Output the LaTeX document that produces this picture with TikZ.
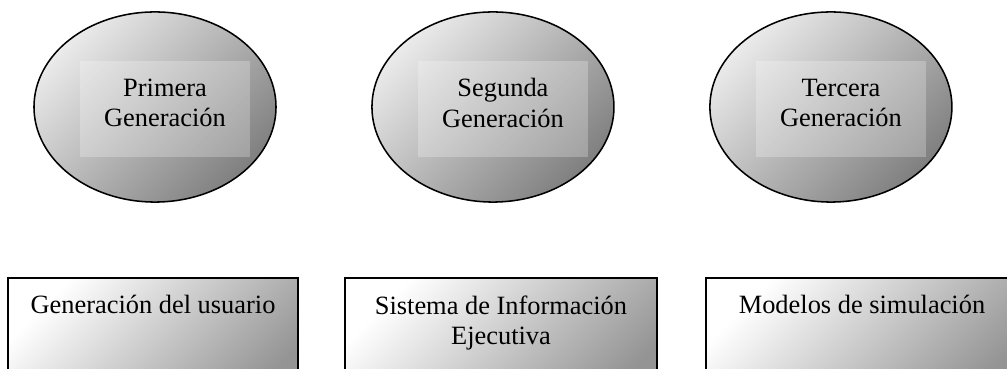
\documentclass[tikz,border=0pt]{standalone}
\usepackage{fontspec}
\setmainfont{Liberation Serif}
\usetikzlibrary{positioning,shapes.geometric}

\definecolor{shadelight}{gray}{0.92}
\definecolor{shadedark}{gray}{0.50}

\begin{document}
\begin{tikzpicture}[x=0.4545pt, y=-0.4545pt, node distance=153.6pt, on grid,
    every node/.style={font=\fontsize{12}{13.8}\selectfont},
    gen/.style={ellipse, draw, line width=0.7pt, minimum width=110pt,
      minimum height=86.4pt, top color=shadelight, bottom color=shadedark,
      shading angle=45},
    genback/.style={rectangle, minimum width=77.3pt, minimum height=43.6pt,
      fill=white, fill opacity=0.25},
    gentext/.style={align=center, inner sep=0pt},
    tool/.style={rectangle, draw, line width=0.9pt, anchor=north,
      minimum height=60pt, top color=white, bottom color=black!42,
      shading angle=45},
    tooltext/.style={align=center, inner sep=0pt, anchor=north}
  ]
  \useasboundingbox (0,0) rectangle (1007,369);
  \clip (0,0) rectangle (1007,369);

  % generaciones
  \node[gen] (g1) at (155,107) {};
  \node[gen] (g2) [right=of g1] {};
  \node[gen] (g3) [right=of g2] {};

  \node[genback] (g1b) at ([shift={(10,2)}]g1.center) {};
  \node[genback] (g2b) at ([shift={(10,2)}]g2.center) {};
  \node[genback] (g3b) at ([shift={(10,2)}]g3.center) {};

  \node[gentext] (g1t) at ([shift={(10,-4)}]g1.center) {Primera\\Generación};
  \node[gentext] (g2t) at ([shift={(10,-4)}]g2.center) {Segunda\\Generación};
  \node[gentext] (g3t) at ([shift={(10,-4)}]g3.center) {Tercera\\Generación};

  % herramientas
  \node[tool, minimum width=131.8pt] (u1) at (153,277) {};
  \node[tool, minimum width=141.8pt] (u2) at (501,277) {};
  \node[tool, minimum width=141.8pt] (u3) at (862,277) {};

  \node[tooltext] (u1t) at ([yshift=-8.2pt]u1.north) {Generación del usuario};
  \node[tooltext] (u2t) at ([yshift=-8.2pt]u2.north) {Sistema de Información\\Ejecutiva};
  \node[tooltext] (u3t) at ([yshift=-8.2pt]u3.north) {Modelos de simulación};
\end{tikzpicture}
\end{document}
